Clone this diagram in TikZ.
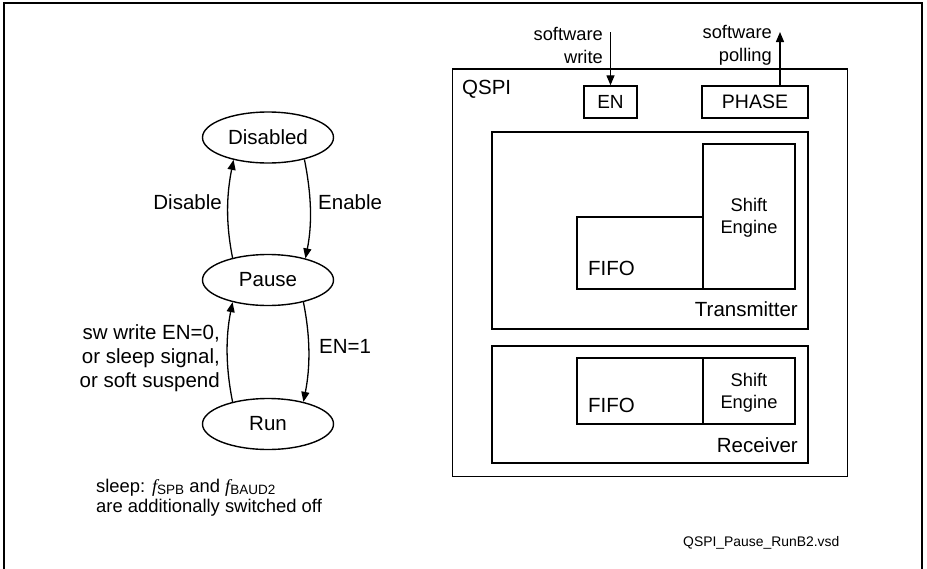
\documentclass[tikz,border=0pt]{standalone}
\usepackage{fontspec}
\setmainfont{Liberation Sans}
\newfontfamily\serifit{Liberation Serif}
\usetikzlibrary{shapes.geometric,arrows.meta,calc}
\begin{document}
\begin{tikzpicture}[x=1pt,y=-1pt,
  st/.style={ellipse,draw,line width=1.4pt,minimum width=131pt,minimum height=51pt,inner sep=0pt,font=\fontsize{20.5}{24}\selectfont},
  lbl/.style={inner sep=0pt,font=\fontsize{20.5}{24}\selectfont},
  small/.style={inner sep=0pt,font=\fontsize{18.3}{22}\selectfont},
  box/.style={draw,line width=1.4pt,inner sep=0pt},
  arr/.style={line width=1.3pt,-{Triangle[length=10pt,width=8pt]}}]
\useasboundingbox (0,0) rectangle (927,568);
% outer frame
\draw[line width=1.4pt] (4,572) -- (4,3) -- (922,3) -- (922,572);

% state machine
\node[st] (disabled) at (268,137.5) {Disabled};
\node[st] (pause) at (268,280) {Pause};
\node[st] (run) at (268,424) {Run};

\draw[arr] (pause.148) .. controls +(-7,-35) and +(-7,35) .. (disabled.213);
\draw[arr] (disabled.329) .. controls +(7,35) and +(7,-35) .. (pause.30);
\draw[arr] (run.148) .. controls +(-7,-35) and +(-7,35) .. (pause.212);
\draw[arr] (pause.328) .. controls +(7,35) and +(7,-35) .. (run.32);

\node[lbl,anchor=east] (ldis) at (222,202) {Disable};
\node[lbl,anchor=west] (len) at (318,202) {Enable};
\node[lbl,anchor=west] (len1) at (319,346) {EN=1};
\node[lbl,anchor=east,align=right] (lsw) at (220,358) {sw write EN=0,\\or sleep signal,\\or soft suspend};

\node[inner sep=0pt,anchor=west,align=left,font=\fontsize{18.4}{19.5}\selectfont] (note) at (96,497.5)
  {sleep: {\serifit\itshape f}\raisebox{-0.25ex}{\fontsize{13.5}{14}\selectfont SPB} and {\serifit\itshape f}\raisebox{-0.25ex}{\fontsize{13.5}{14}\selectfont BAUD2}\\are additionally switched off};

% QSPI block
\node[box,minimum width=395pt,minimum height=407.7pt] (qspi) at (650.2,272.9) {};
\node[lbl,anchor=west] (qspil) at (462,89) {QSPI};
\node[box,minimum width=53pt,minimum height=32pt,font=\fontsize{19}{22}\selectfont] (en) at (610.5,102) {EN};
\node[box,minimum width=106pt,minimum height=32pt,font=\fontsize{19.5}{22}\selectfont] (phase) at (755,102) {PHASE};

\coordinate (swtop) at (en.north |- 0,32);
\draw[arr] (swtop) -- (en.north);
\coordinate (phbot) at ($(phase.north)+(25,0)$);
\coordinate (phtop) at (phbot |- 0,32);
\draw[arr] (phbot) -- (phtop);
\node[small,anchor=east,align=right,font=\fontsize{18.3}{23}\selectfont] (swl) at (603,45) {software\\write};
\node[small,anchor=east,align=right,font=\fontsize{18.3}{23}\selectfont] (spl) at (772,45) {software\\polling};

% Transmitter
\node[box,minimum width=316pt,minimum height=197pt] (tx) at (650,230.5) {};
\node[box,minimum width=92pt,minimum height=145pt] (txse) at (749,216.5) {};
\node[box,minimum width=126pt,minimum height=72pt] (txfifo) at (640,253) {};
\node[small,align=center,font=\fontsize{18.3}{21.7}\selectfont] (txsel) at (749,217.8) {Shift\\Engine};
\node[lbl,anchor=west] (txfl) at (588,268) {FIFO};
\node[lbl,anchor=east] (txl) at (798,309) {Transmitter};

% Receiver
\node[box,minimum width=316pt,minimum height=117pt] (rx) at (650,404.5) {};
\node[box,minimum width=126pt,minimum height=66pt] (rxfifo) at (640,391) {};
\node[box,minimum width=92pt,minimum height=66pt] (rxse) at (749,391) {};
\node[small,align=center,font=\fontsize{18.3}{21.7}\selectfont] (rxsel) at (749,392.5) {Shift\\Engine};
\node[lbl,anchor=west] (rxfl) at (588,405) {FIFO};
\node[lbl,anchor=east] (rxl) at (798,445) {Receiver};

\node[inner sep=0pt,anchor=west,font=\fontsize{13.9}{16}\selectfont] (foot) at (683,543) {QSPI\_Pause\_RunB2.vsd};
\end{tikzpicture}
\end{document}
